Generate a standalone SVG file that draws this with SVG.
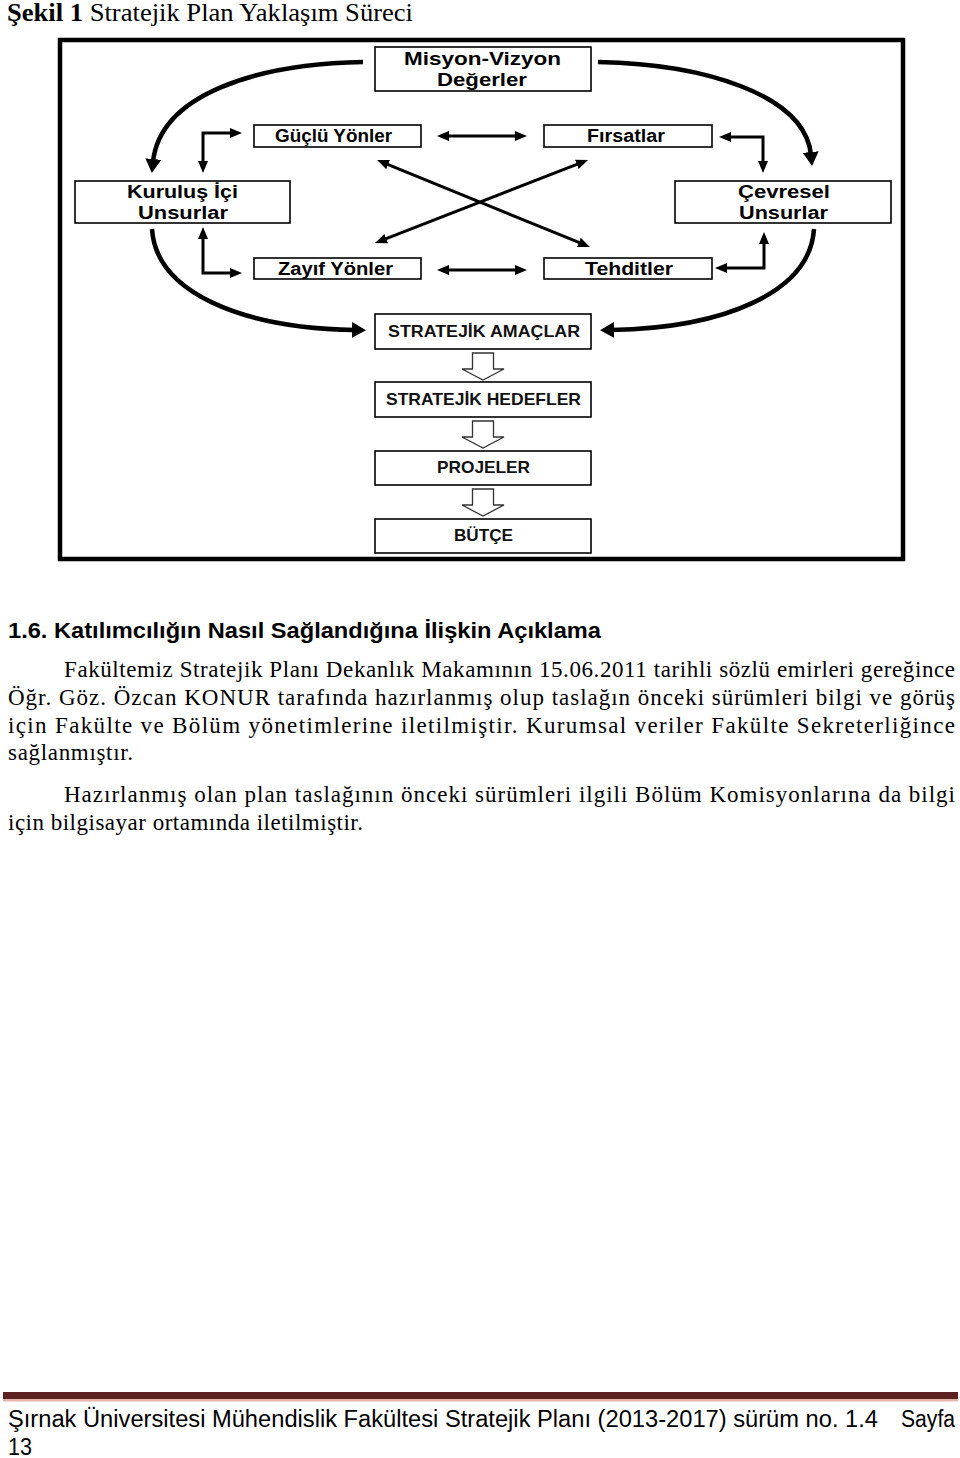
<svg xmlns="http://www.w3.org/2000/svg" width="960" height="1458" viewBox="0 0 960 1458">
<style>
.bx{fill:#fff;stroke:#000;stroke-width:1.6}
.t1{font-family:"Liberation Sans",Arial,sans-serif;font-weight:bold;font-size:17.5px;fill:#000}
.t2{font-family:"Liberation Sans Narrow","Liberation Sans",Arial,sans-serif;font-weight:bold;font-size:16.5px;fill:#111}
.ln{fill:none;stroke:#000;stroke-width:3}
.cv{fill:none;stroke:#000;stroke-width:4.5;stroke-linecap:butt}
.hol{fill:#fff;stroke:#333;stroke-width:1.3}
.body{font-family:"Liberation Serif","Times New Roman",serif;font-size:23px;fill:#000}
.hd{font-family:"Liberation Sans Narrow","Liberation Sans",Arial,sans-serif;font-size:22px;font-weight:bold;fill:#000}
.ft{font-family:"Liberation Sans Narrow","Liberation Sans",Arial,sans-serif;font-size:23px;fill:#000}
</style>
<defs>
<marker id="ah" viewBox="0 0 12 10" refX="2" refY="5" markerWidth="12" markerHeight="10" markerUnits="userSpaceOnUse" orient="auto-start-reverse"><path d="M0,0 L12,5 L0,10 z" fill="#000"/></marker>
<marker id="ahb" viewBox="0 0 14 16" refX="3" refY="8" markerWidth="14" markerHeight="16" markerUnits="userSpaceOnUse" orient="auto"><path d="M0,0 L14,8 L0,16 z" fill="#000"/></marker>
</defs>
<rect width="960" height="1458" fill="#fff"/>

<text x="7" y="21" font-family="Liberation Serif,'Times New Roman',serif" font-size="25" textLength="406" lengthAdjust="spacingAndGlyphs"><tspan font-weight="bold">Şekil 1</tspan> Stratejik Plan Yaklaşım Süreci</text>

<rect x="60" y="40" width="843" height="519" fill="none" stroke="#000" stroke-width="4.5"/>

<g id="connectors">
<path class="cv" d="M363,62 C255,64 160,95 153,162" marker-end="url(#ahb)"/>
<path class="cv" d="M598,62 C705,64 805,95 811,155" marker-end="url(#ahb)"/>
<path class="cv" d="M152,229 C156,292 240,328 355,330" marker-end="url(#ahb)"/>
<path class="cv" d="M814,229 C810,292 725,328 611,330" marker-end="url(#ahb)"/>
<path class="ln" d="M447,136 L517,136" marker-start="url(#ah)" marker-end="url(#ah)"/>
<path class="ln" d="M447,270 L517,270" marker-start="url(#ah)" marker-end="url(#ah)"/>
<path class="ln" d="M386.3,163.8 L580.7,243.2" marker-start="url(#ah)" marker-end="url(#ah)"/>
<path class="ln" d="M578.7,163.6 L384.3,239.4" marker-start="url(#ah)" marker-end="url(#ah)"/>
<path class="ln" d="M203,163 L203,133 L232,133" marker-start="url(#ah)" marker-end="url(#ah)"/>
<path class="ln" d="M203,237 L203,273 L232,273" marker-start="url(#ah)" marker-end="url(#ah)"/>
<path class="ln" d="M729,137 L763,137 L763,163" marker-start="url(#ah)" marker-end="url(#ah)"/>
<path class="ln" d="M725,268 L764,268 L764,242" marker-start="url(#ah)" marker-end="url(#ah)"/>
<polygon class="hol" points="472.5,353 493.5,353 493.5,369 504,369 483,380 462,369 472.5,369"/>
<polygon class="hol" points="472.5,421 493.5,421 493.5,437 504,437 483,448 462,437 472.5,437"/>
<polygon class="hol" points="472.5,489 493.5,489 493.5,505 504,505 483,516 462,505 472.5,505"/>
</g>

<g id="misyon">
<rect class="bx" x="375" y="47" width="216" height="44"/>
<text class="t1" x="404" y="65" textLength="157" lengthAdjust="spacingAndGlyphs">Misyon-Vizyon</text>
<text class="t1" x="437" y="86" textLength="90" lengthAdjust="spacingAndGlyphs">Değerler</text>
</g>
<g id="guclu">
<rect class="bx" x="254" y="125" width="167" height="22"/>
<text class="t1" x="275" y="142" textLength="117" lengthAdjust="spacingAndGlyphs">Güçlü Yönler</text>
</g>
<g id="firsatlar">
<rect class="bx" x="544" y="125" width="168" height="22"/>
<text class="t1" x="587" y="142" textLength="78" lengthAdjust="spacingAndGlyphs">Fırsatlar</text>
</g>
<g id="kurulus">
<rect class="bx" x="75" y="181" width="215" height="42"/>
<text class="t1" x="127" y="198" textLength="111" lengthAdjust="spacingAndGlyphs">Kuruluş İçi</text>
<text class="t1" x="138" y="219" textLength="90" lengthAdjust="spacingAndGlyphs">Unsurlar</text>
</g>
<g id="cevresel">
<rect class="bx" x="675" y="181" width="216" height="42"/>
<text class="t1" x="738" y="198" textLength="92" lengthAdjust="spacingAndGlyphs">Çevresel</text>
<text class="t1" x="739" y="219" textLength="89" lengthAdjust="spacingAndGlyphs">Unsurlar</text>
</g>
<g id="zayif">
<rect class="bx" x="254" y="258" width="167" height="21"/>
<text class="t1" x="278" y="275" textLength="115" lengthAdjust="spacingAndGlyphs">Zayıf Yönler</text>
</g>
<g id="tehditler">
<rect class="bx" x="544" y="258" width="168" height="21"/>
<text class="t1" x="585" y="275" textLength="88" lengthAdjust="spacingAndGlyphs">Tehditler</text>
</g>
<g id="amaclar">
<rect class="bx" x="375" y="314" width="216" height="35"/>
<text class="t2" x="388" y="337" textLength="192" lengthAdjust="spacingAndGlyphs">STRATEJİK AMAÇLAR</text>
</g>
<g id="hedefler">
<rect class="bx" x="375" y="382" width="216" height="35"/>
<text class="t2" x="386" y="405" textLength="195" lengthAdjust="spacingAndGlyphs">STRATEJİK HEDEFLER</text>
</g>
<g id="projeler">
<rect class="bx" x="375" y="451" width="216" height="34"/>
<text class="t2" x="437" y="473" textLength="93" lengthAdjust="spacingAndGlyphs">PROJELER</text>
</g>
<g id="butce">
<rect class="bx" x="375" y="519" width="216" height="34"/>
<text class="t2" x="454" y="541" textLength="59" lengthAdjust="spacingAndGlyphs">BÜTÇE</text>
</g>

<text class="hd" x="8" y="638" textLength="593" lengthAdjust="spacingAndGlyphs">1.6. Katılımcılığın Nasıl Sağlandığına İlişkin Açıklama</text>
<text class="body" x="64" y="677" textLength="891">Fakültemiz Stratejik Planı Dekanlık Makamının 15.06.2011 tarihli sözlü emirleri gereğince</text>
<text class="body" x="8" y="705" textLength="947">Öğr. Göz. Özcan KONUR tarafında hazırlanmış olup taslağın önceki sürümleri bilgi ve görüş</text>
<text class="body" x="8" y="733" textLength="947">için Fakülte ve Bölüm yönetimlerine iletilmiştir. Kurumsal veriler Fakülte Sekreterliğince</text>
<text class="body" x="8" y="760" textLength="125">sağlanmıştır.</text>
<text class="body" x="64" y="802" textLength="891">Hazırlanmış olan plan taslağının önceki sürümleri ilgili Bölüm Komisyonlarına da bilgi</text>
<text class="body" x="8" y="830" textLength="355">için bilgisayar ortamında iletilmiştir.</text>

<rect x="3" y="1392" width="955" height="7" fill="#5c2222"/>
<rect x="3" y="1399" width="955" height="2.5" fill="#e8b4ae"/>
<text class="ft" x="8" y="1427" textLength="870" lengthAdjust="spacingAndGlyphs">Şırnak Üniversitesi Mühendislik Fakültesi Stratejik Planı (2013-2017) sürüm no. 1.4</text>
<text class="ft" x="901" y="1427" textLength="54" lengthAdjust="spacingAndGlyphs">Sayfa</text>
<text class="ft" x="8" y="1455" textLength="24" lengthAdjust="spacingAndGlyphs">13</text>
</svg>
